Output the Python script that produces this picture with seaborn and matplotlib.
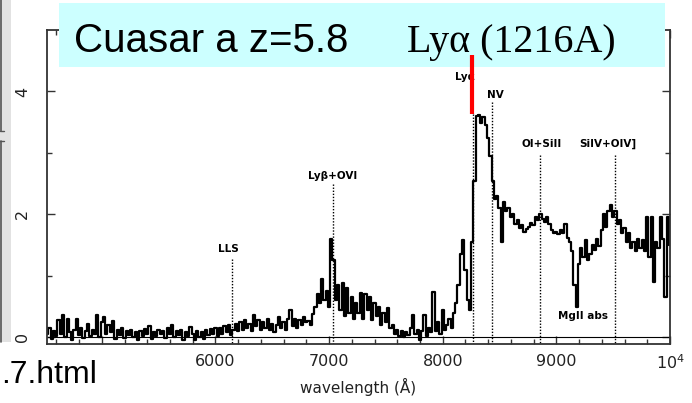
import numpy as np
import matplotlib
matplotlib.use("Agg")
import matplotlib.pyplot as plt
from matplotlib.patches import Rectangle
from matplotlib.lines import Line2D
from matplotlib.ticker import MultipleLocator, FixedLocator, FixedFormatter
import seaborn as sns

# ---------------- data (flux, 20 A sampling) ----------------
wl_start = 4520
wl_step = 20
flux_4520_5000 = [0.05, 0.15, -0.03, 0.10, 0.02, 0.28, 0.05, 0.36, 0.00, 0.30, 0.08, -0.04, 0.12,
                  0.30, 0.03, 0.15, -0.02, 0.10, 0.22, 0.02, 0.12, 0.05, 0.36, 0.00, 0.25]
flux_5020_5500 = [0.33, 0.05, 0.20, 0.08, 0.26, -0.03, 0.12, 0.04, 0.15, -0.02, 0.10, 0.03, 0.12,
                  0.00, 0.08, -0.04, 0.10, 0.02, 0.14, 0.05, 0.18, -0.03, 0.08, 0.02, 0.12]
flux_5520_6000 = [0.05, 0.10, -0.02, 0.15, 0.06, 0.20, 0.00, 0.10, 0.04, 0.12, -0.05, 0.08, 0.02,
                  0.16, 0.05, -0.04, 0.10, 0.00, 0.08, -0.03, 0.12, 0.03, 0.14, 0.05, 0.15]
flux_6020_6500 = [0.02, 0.15, 0.05, 0.18, 0.08, 0.20, 0.04, 0.12, 0.22, 0.10, 0.25, 0.12, 0.28,
                  0.15, 0.22, 0.10, 0.36, 0.18, 0.28, 0.12, 0.25, 0.15, 0.30, 0.12, 0.22]
flux_6520_7000 = [0.08, 0.20, 0.33, 0.15, 0.25, 0.12, 0.30, 0.45, 0.18, 0.30, 0.15, 0.28, 0.20,
                  0.33, 0.25, 0.27, 0.20, 0.38, 0.50, 0.70, 0.55, 0.95, 0.60, 0.75, 0.50]
flux_7020_7500 = [1.60, 1.25, 0.60, 0.85, 0.45, 0.88, 0.35, 0.80, 0.40, 0.65, 0.30, 0.55, 0.40,
                  0.72, 0.30, 0.70, 0.45, 0.65, 0.28, 0.55, 0.35, 0.50, 0.20, 0.40, 0.25]
flux_7520_8000 = [0.47, 0.15, 0.20, 0.05, 0.12, 0.02, 0.10, 0.00, 0.08, 0.03, 0.15, 0.36, 0.05,
                  0.12, -0.05, 0.10, 0.36, 0.02, 0.15, 0.08, 0.73, 0.10, 0.25, 0.05, 0.45]
flux_8020_8500 = [0.12, 0.20, 0.30, 0.15, 0.40, 0.55, 0.85, 1.35, 1.58, 1.10, 0.60, 0.45, 1.55,
                  2.55, 3.60, 3.62, 3.48, 3.58, 3.45, 3.25, 2.95, 2.55, 2.25, 2.30, 2.10]
flux_8520_9000 = [1.55, 2.20, 2.05, 2.10, 1.95, 2.00, 1.85, 1.90, 1.78, 1.82, 1.72, 1.76, 1.80,
                  1.86, 1.82, 1.95, 1.90, 2.00, 1.92, 1.88, 1.95, 1.85, 1.75, 1.70, 1.72]
flux_9020_9500 = [1.68, 1.75, 1.70, 1.85, 1.62, 1.55, 1.40, 0.85, 0.50, 1.20, 1.45, 1.30, 1.58,
                  1.25, 1.35, 1.50, 1.42, 1.60, 1.48, 1.75, 2.00, 1.80, 2.05, 2.15, 1.95]
flux_9520_10000 = [2.05, 1.85, 1.90, 1.70, 1.78, 1.55, 1.70, 1.45, 1.55, 1.40, 1.60, 1.45, 1.58,
                   1.40, 1.95, 1.30, 1.95, 0.90, 1.55, 1.45, 1.95, 1.60, 0.65, 1.95, 1.50]

line_names = ["LLS", "Ly\u03b2+OVI", "Ly\u03b1", "NV", "OI+SiII", "SiIV+OIV]"]
line_wl = [6149, 7037, 8264, 8437, 8856, 9516]
line_top = [1.28, 2.50, 3.64, 3.83, 2.96, 2.96]
label_wl = [6111, 7035, 8196, 8460, 8874, 9455]
label_y = [1.43, 2.62, 4.23, 3.95, 3.14, 3.14]
abs_label = "MgII abs"
abs_wl, abs_y = 9235, 0.34

lya_marker_wl = 8260
lya_marker_range = [3.63, 4.60]

x_major = [5000, 6000, 7000, 8000, 9000, 10000]
x_major_labels = ["", "6000", "7000", "8000", "9000", r"$10^4$"]
y_major = [0, 2, 4]
y_minor = [1, 3]

title_left = "Cuasar a z=5.8"
title_right = "Ly\u03b1 (1216A)"
url_text = ".7.html"
xlabel = "wavelength (\u00c5)"

# ---------------- build ----------------
flux = np.concatenate([flux_4520_5000, flux_5020_5500, flux_5520_6000, flux_6020_6500,
                       flux_6520_7000, flux_7020_7500, flux_7520_8000, flux_8020_8500,
                       flux_8520_9000, flux_9020_9500, flux_9520_10000])
wl = wl_start + wl_step * np.arange(len(flux))

sns.set_style("ticks")
plt.rcParams['font.family'] = ['DejaVu Sans']
plt.rcParams['text.color'] = 'black'

W, H = 692, 403
fig = plt.figure(figsize=(W / 100, H / 100), dpi=100)
fig.patch.set_facecolor("white")

def fx(px):
    return px / W

def fy(py):
    return 1 - py / H

ax = fig.add_axes([fx(47), fy(344), fx(670) - fx(47), fy(30) - fy(344)])

sns.lineplot(x=wl, y=flux, ax=ax, color="black", lw=1.6, drawstyle="steps-mid",
             estimator=None, sort=True)
ax.axhline(0, color="black", lw=0.8, zorder=1)

ax.set_xlim(4518, 10000)
ax.set_ylim(-0.11, 5.0)

ax.vlines(line_wl, line_top, -0.11, colors="black", linestyles=(0, (1, 1.2)), lw=1.0)
for name, xw, yw in zip(line_names, label_wl, label_y):
    ax.text(xw, yw, name, ha="center", va="center", fontsize=7.5, fontweight="bold",
            color="black")
ax.text(abs_wl, abs_y, abs_label, ha="center", va="center", fontsize=7.5,
        fontweight="bold", color="black")

# ticks
ax.xaxis.set_major_locator(FixedLocator(x_major))
ax.xaxis.set_major_formatter(FixedFormatter(x_major_labels))
ax.xaxis.set_minor_locator(MultipleLocator(200))
ax.yaxis.set_major_locator(FixedLocator(y_major))
ax.yaxis.set_minor_locator(FixedLocator(y_minor))
ax.tick_params(which="both", direction="in", top=True, right=True, color="#333333")
ax.tick_params(which="major", length=5.5, width=1.0)
ax.tick_params(which="minor", length=3.5, width=1.0)
ax.tick_params(axis="x", labelsize=11.5, pad=7, labelcolor="#222222")
ax.tick_params(axis="y", labelsize=11.5, pad=12, labelcolor="#222222", labelrotation=90)
for lab in ax.get_yticklabels():
    lab.set_va("center")
for s in ax.spines.values():
    s.set_color("#333333")
    s.set_linewidth(1.3)
ax.set_xlabel(xlabel, fontsize=11, color="#222222", labelpad=4)
ax.set_ylabel("")

# title box (covers top spine)
fig.add_artist(Rectangle((fx(59), fy(67)), fx(665) - fx(59), fy(3) - fy(67),
                         transform=fig.transFigure, facecolor="#ccffff",
                         edgecolor="none", zorder=5))
fig.text(fx(74), fy(52), title_left, fontsize=29, family="Liberation Sans",
         ha="left", va="baseline", color="black", zorder=6)
fig.text(fx(407), fy(52), title_right, fontsize=28.8, family="Liberation Serif",
         ha="left", va="baseline", color="black", zorder=6)

# red Lya marker above the box
red = Line2D([lya_marker_wl, lya_marker_wl], lya_marker_range, transform=ax.transData,
             color="#ff0000", lw=3.0, solid_capstyle="butt", zorder=7)
fig.add_artist(red)

# left slide UI strip
fig.add_artist(Rectangle((0, fy(342)), fx(11), fy(0) - fy(342), transform=fig.transFigure,
                         facecolor="#e2e2e2", edgecolor="none", zorder=4))
fig.add_artist(Line2D([fx(1.5), fx(1.5)], [fy(0), fy(131)], transform=fig.transFigure,
                      color="#555555", lw=1.2, zorder=5))
fig.add_artist(Line2D([fx(1.5), fx(1.5)], [fy(141), fy(342)], transform=fig.transFigure,
                      color="#555555", lw=1.2, zorder=5))
fig.add_artist(Line2D([0, fx(4)], [fy(131), fy(131)], transform=fig.transFigure,
                      color="#555555", lw=1.0, zorder=5))
fig.add_artist(Line2D([0, fx(4)], [fy(141), fy(141)], transform=fig.transFigure,
                      color="#555555", lw=1.0, zorder=5))

fig.text(fx(1), fy(383), url_text, fontsize=23, family="Liberation Sans",
         ha="left", va="baseline", color="black", zorder=6)

fig.savefig("out.png", dpi=100, facecolor="white")
